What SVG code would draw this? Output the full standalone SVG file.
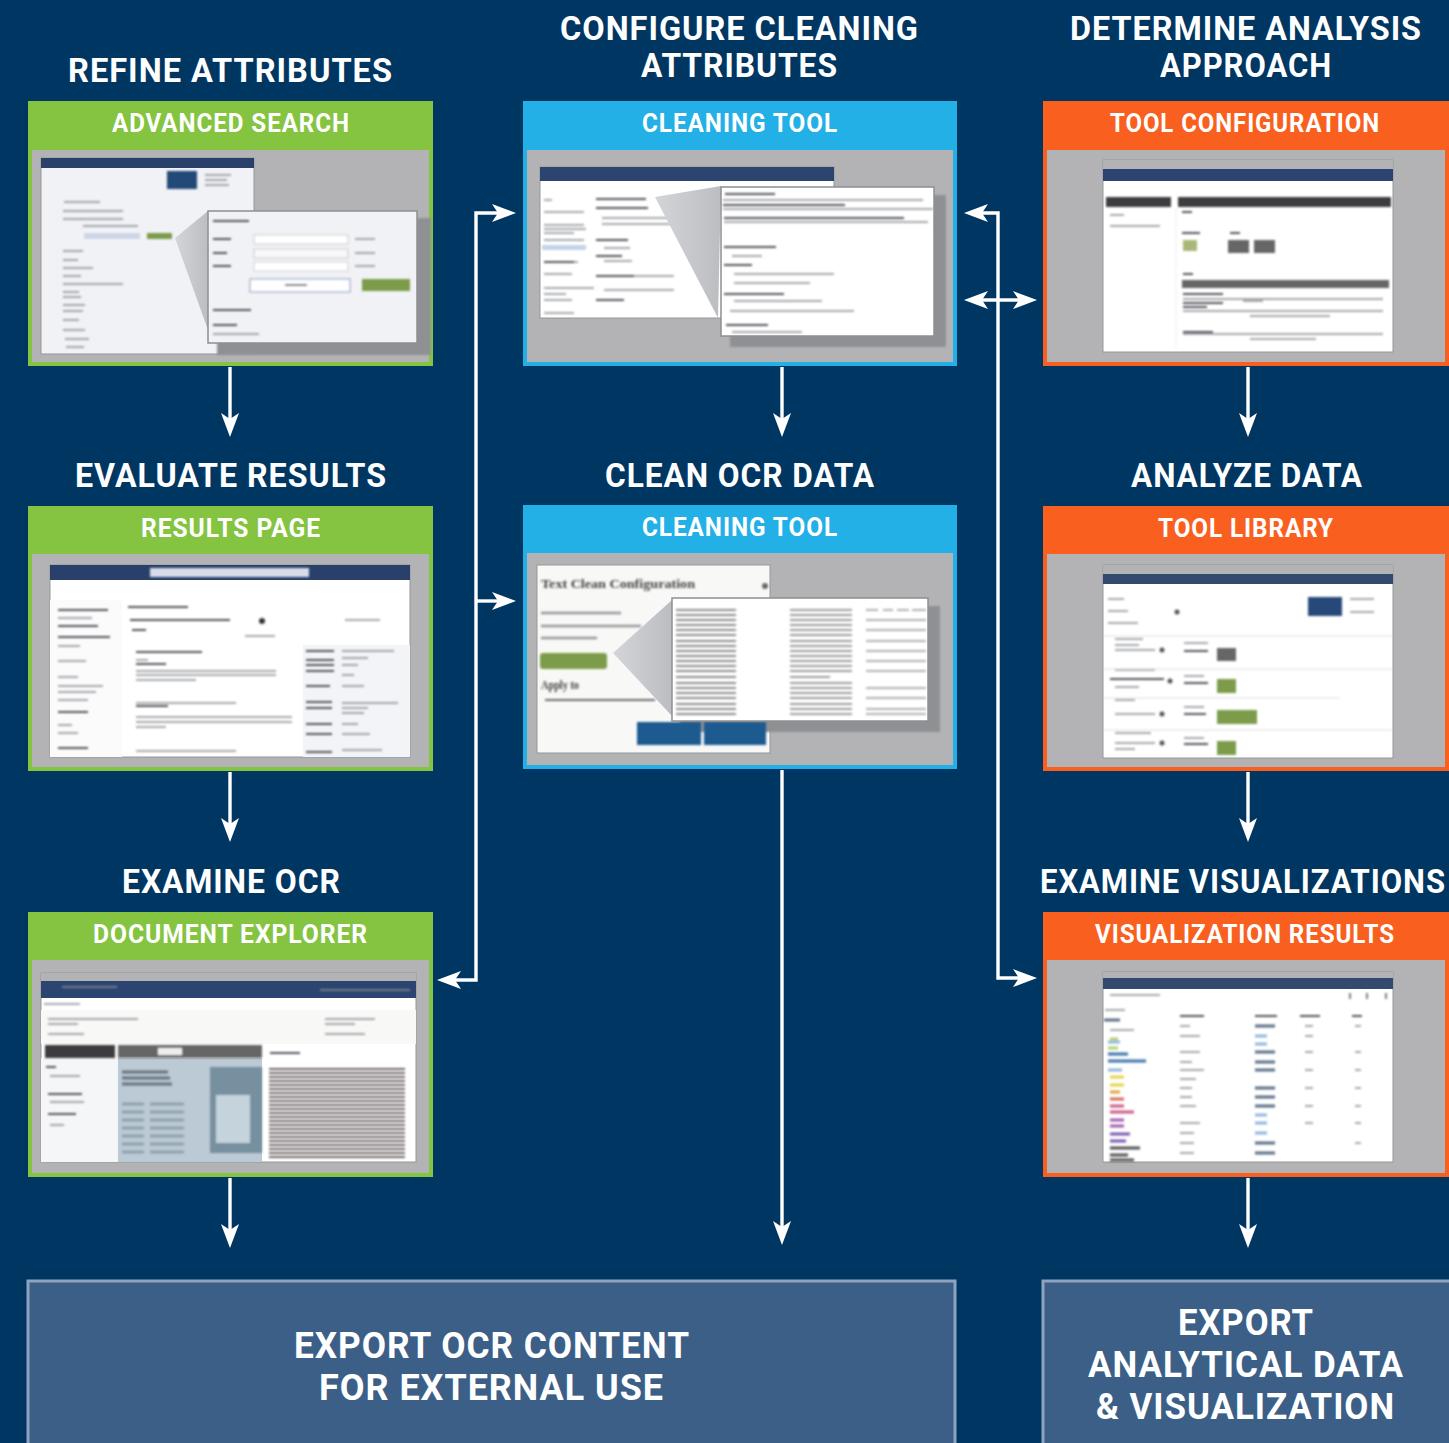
<svg xmlns="http://www.w3.org/2000/svg" width="1449" height="1443" viewBox="0 0 1449 1443">
<style>
text{font-family:"Roboto","Liberation Sans",sans-serif;font-weight:700;fill:#fff;letter-spacing:1px}
.h{font-size:33px}.t{font-size:26px}.e{font-size:37px}
.panel{fill:#b3b3b5}.green{fill:#84c441}.blue{fill:#23b0e6}.orange{fill:#f96020}
.shot{stroke:#96979a;stroke-width:1}.shadow{fill:#8f9094;filter:url(#b)}.pop{stroke:#8d8e91;stroke-width:1.5}
.nav{fill:#2b4570}.dark{fill:#4c4c4e}.l{fill:none;stroke:#8b8d92;stroke-width:1.3}.m{fill:none;stroke:#55575c;stroke-width:1.8}
.wire{fill:none;stroke:#fff;stroke-width:3.4}
.arr{marker-end:url(#a)}.both{marker-start:url(#a);marker-end:url(#a)}
.exp{fill:#3c5f88;stroke:#8ea3bf;stroke-width:3}
.btn{fill:#7b9c4c}.bb{fill:#1f5a90}
.fx{filter:url(#b)}
.dim{font-family:"Liberation Serif",serif;font-weight:700;fill:#444;font-size:13px;letter-spacing:0}
</style>
<defs>
<marker id="a" markerUnits="userSpaceOnUse" markerWidth="24" markerHeight="20" viewBox="0 0 24 20" refX="6" refY="10" orient="auto-start-reverse"><path d="M24 10L0 1L6 10L0 19Z" fill="#fff"/></marker>
<filter id="b" x="-5%" y="-5%" width="110%" height="110%"><feGaussianBlur stdDeviation="1"/></filter>
<linearGradient id="c" x1="0" x2="1" y1="0" y2="0"><stop offset="0" stop-color="#d4d5d8"/><stop offset="1" stop-color="#bcbdc1"/></linearGradient>
</defs>
<rect width="1449" height="1443" fill="#003662"/>

<g id="connectors">
<path class="wire arr" d="M230 367V419"/><path class="wire arr" d="M230 772V824"/><path class="wire arr" d="M230 1178V1230"/>
<path class="wire arr" d="M782 367V419"/><path class="wire arr" d="M782 770V1227"/>
<path class="wire arr" d="M1248 367V419"/><path class="wire arr" d="M1248 772V824"/><path class="wire arr" d="M1248 1178V1230"/>
<path class="wire both" d="M498 213H476V980H455"/><path class="wire arr" d="M476 601H498"/>
<path class="wire both" d="M982 213H998V978H1019"/><path class="wire both" d="M982 300H1019"/>
</g>

<g id="advanced-search">
<text class="h" x="68" y="82" textLength="325" lengthAdjust="spacingAndGlyphs">REFINE ATTRIBUTES</text>
<rect class="green" x="28" y="101" width="405" height="265"/><rect class="panel" x="32" y="150" width="397" height="212"/>
<text class="t" x="112" y="132" textLength="238" lengthAdjust="spacingAndGlyphs">ADVANCED SEARCH</text>
<rect class="shot" x="41" y="158" width="213" height="196" fill="#f1f2f6"/>
<rect class="shadow" x="217" y="218" width="214" height="137"/>
<rect x="41" y="158" width="213" height="10" fill="#28406a"/>
<g class="fx"><rect x="167" y="171" width="30" height="18" fill="#234a78"/>
<path class="l" d="M205 175h26M205 180h22M205 185h24M64 202h36M63 211h60M63 219h60M83 226h55M63 251h20M63 260h15M63 268h30M63 276h18M63 284h60M63 292h16M63 297h18M63 305h22M63 311h20M63 320h16M63 330h22M65 339h24M66 347h18"/>
<rect x="84" y="233" width="56" height="6" fill="#cdd6e6"/><rect x="147" y="233" width="25" height="6" class="btn"/></g>
<path d="M175 238L208 211V330Z" fill="url(#c)"/>
<rect class="pop" x="208" y="211" width="209" height="132" fill="#f1f2f6"/>
<g class="fx"><path class="m" d="M213 221h36M213 239h18M213 253h14M213 266h18M213 310h38M213 325h24"/><path class="l" d="M213 334h46M355 239h20M355 253h20M355 266h20"/>
<rect x="254" y="235" width="94" height="9" fill="#fff" stroke="#c9c9cc"/><rect x="254" y="249" width="94" height="9" fill="#f8f8f8" stroke="#c9c9cc"/><rect x="254" y="262" width="94" height="9" fill="#fff" stroke="#d0d0d2"/>
<rect x="250" y="279" width="100" height="13" fill="#fff" stroke="#7d95c0"/><path class="m" d="M285 285h22"/><rect x="362" y="279" width="48" height="12" class="btn"/></g>
</g>

<g id="results-page">
<text class="h" x="75" y="487" textLength="312" lengthAdjust="spacingAndGlyphs">EVALUATE RESULTS</text>
<rect class="green" x="28" y="506" width="405" height="265"/><rect class="panel" x="32" y="554" width="397" height="213"/>
<text class="t" x="141" y="537" textLength="180" lengthAdjust="spacingAndGlyphs">RESULTS PAGE</text>
<rect class="shot" x="50" y="565" width="360" height="192" fill="#fff"/>
<rect x="50" y="565" width="360" height="15" fill="#28406a"/>
<rect x="303" y="645" width="107" height="112" fill="#f3f4f7"/><rect x="50" y="600" width="72" height="157" fill="#fbfbfc"/>
<g class="fx"><rect x="150" y="568" width="159" height="9" fill="#d8dcea"/>
<path class="m" d="M58 610h50M58 626h40M58 637h52M128 607h60M130 620h100M132 630h14M136 652h66M136 664h30M136 706h32M58 712h30M58 748h30"/><circle cx="262" cy="621" r="3" fill="#333"/>
<path class="l" d="M58 618h34M58 646h22M58 661h28M58 677h20M58 686h45M58 692h38M58 700h30M58 725h14M58 733h20M136 660h12M136 671h140M136 675h140M136 680h60M136 703h100M136 717h156M136 722h156M136 727h30M136 751h100M245 636h30M345 620h35"/>
<path class="m" d="M306 651h28M306 660h28M306 665h28M306 671h28M306 686h24M306 702h26M306 708h26M306 724h26M306 734h26M306 752h26"/><path class="l" d="M342 651h52M342 658h26M342 665h16M342 675h12M342 686h22M342 703h56M342 708h26M342 713h22M342 724h16M342 734h28M342 750h40"/></g>
</g>

<g id="document-explorer">
<text class="h" x="122" y="893" textLength="219" lengthAdjust="spacingAndGlyphs">EXAMINE OCR</text>
<rect class="green" x="28" y="912" width="405" height="265"/><rect class="panel" x="32" y="960" width="397" height="213"/>
<text class="t" x="93" y="943" textLength="275" lengthAdjust="spacingAndGlyphs">DOCUMENT EXPLORER</text>
<rect class="shot" x="41" y="973" width="375" height="189" fill="#fff"/>
<rect x="41" y="973" width="375" height="8" fill="#b3b3b5"/><rect x="41" y="981" width="375" height="17" fill="#2b4570"/>
<rect x="41" y="1010" width="375" height="34" fill="#f8f8f6"/><rect x="41" y="1058" width="77" height="104" fill="#f5f6f8"/>
<rect x="118" y="1058" width="144" height="104" fill="#bccad5"/>
<g class="fx"><rect x="45" y="1045" width="70" height="13" fill="#3d3b3d"/><rect x="118" y="1045" width="144" height="13" fill="#666"/><rect x="158" y="1048" width="24" height="7" fill="#eee"/>
<rect x="210" y="1067" width="52" height="86" fill="#76909f"/><rect x="216" y="1095" width="34" height="48" fill="#c4d3dc"/>
<path d="M122 1072h46M122 1078h48M122 1084h50" fill="none" stroke="#66737c" stroke-width="3"/>
<path d="M122 1104h22M150 1104h34M122 1112h22M150 1112h34M122 1120h22M150 1120h34M122 1128h22M150 1128h34M122 1136h22M150 1136h34M122 1144h22M150 1144h34M122 1152h22M150 1152h34" fill="none" stroke="#8fa1ad" stroke-width="3"/>
<path class="m" d="M270 1053h30M46 1067h10M48 1094h34M48 1114h28"/>
<path class="l" d="M44 1004h36M48 1019h90M48 1024h30M48 1034h36M325 1019h50M325 1024h30M325 1034h40M50 1076h30M50 1102h34M50 1125h14M320 990h90M62 987h55"/>
<path d="M269 1069h136M269 1073h136M269 1077h136M269 1081h136M269 1085h136M269 1089h136M269 1093h136M269 1097h136M269 1101h136M269 1105h136M269 1109h136M269 1113h136M269 1117h136M269 1121h136M269 1125h136M269 1129h136M269 1133h136M269 1137h136M269 1141h136M269 1145h136M269 1149h136M269 1153h136M269 1157h136" fill="none" stroke="#6f6465" stroke-width="1.8"/></g>
</g>

<g id="cleaning-tool-config">
<text class="h" x="560" y="40" textLength="359" lengthAdjust="spacingAndGlyphs">CONFIGURE CLEANING</text>
<text class="h" x="641" y="77" textLength="197" lengthAdjust="spacingAndGlyphs">ATTRIBUTES</text>
<rect class="blue" x="523" y="101" width="434" height="265"/><rect class="panel" x="527" y="150" width="426" height="212"/>
<text class="t" x="642" y="132" textLength="196" lengthAdjust="spacingAndGlyphs">CLEANING TOOL</text>
<rect class="shot" x="540" y="167" width="294" height="151" fill="#fff"/>
<rect class="shadow" x="730" y="195" width="216" height="152"/>
<rect x="540" y="167" width="294" height="14" fill="#2b4570"/>
<g class="fx"><path class="l" d="M544 200h8M544 212h40M544 225h40M544 229h42M544 233h30M544 240h40M544 262h34M544 274h28M544 288h50M544 294h22M544 300h28M544 313h30M602 218h100M602 224h100M604 248h26M604 261h28M604 276h70M604 290h70"/><path class="m" d="M596 199h50M596 208h52M596 240h32M596 256h26M596 276h38M596 300h28M544 262h30"/><rect x="542" y="245" width="44" height="5" fill="#c3d3ea"/></g>
<path d="M655 197L721 186L718 318Z" fill="url(#c)"/>
<rect class="pop" x="721" y="187" width="213" height="149" fill="#fff"/>
<g class="fx"><path class="m" d="M725 194h50M723 205h122M724 218h180M724 247h52M724 265h28M724 294h60M726 325h42"/><path class="l" d="M723 200h200M724 222h204M732 256h30M734 274h100M734 283h76M734 301h88M730 311h124M732 332h70M723 209h210"/></g>
</g>

<g id="cleaning-tool-clean">
<text class="h" x="605" y="487" textLength="270" lengthAdjust="spacingAndGlyphs">CLEAN OCR DATA</text>
<rect class="blue" x="523" y="505" width="434" height="264"/><rect class="panel" x="527" y="553" width="426" height="212"/>
<text class="t" x="642" y="536" textLength="196" lengthAdjust="spacingAndGlyphs">CLEANING TOOL</text>
<rect class="shot" x="537" y="565" width="233" height="188" fill="#f8f8f7"/>
<rect class="shadow" x="680" y="606" width="260" height="126"/>
<g class="fx"><text class="dim" x="541" y="588" textLength="154" lengthAdjust="spacingAndGlyphs">Text Clean Configuration</text>
<circle cx="765" cy="586" r="3" fill="#666"/><path d="M541 613h80M541 626h100M541 638h56" fill="none" stroke="#96979b" stroke-width="2.5"/>
<rect x="540" y="653" width="67" height="16" rx="3" fill="#7b9c4c"/>
<text class="dim" x="541" y="689" textLength="38" lengthAdjust="spacingAndGlyphs">Apply to</text><path d="M545 700h110" fill="none" stroke="#6c6d71" stroke-width="2"/>
<rect x="637" y="722" width="64" height="23" class="bb"/><rect x="704" y="722" width="62" height="23" class="bb"/></g>
<path d="M613 653L672 600V716Z" fill="url(#c)"/>
<rect class="pop" x="672" y="598" width="256" height="123" fill="#fff"/>
<g class="fx"><path d="M676 610h60M676 615h60M676 620h60M676 625h60M676 630h60M676 635h60M676 641h60M676 646h60M676 651h60M676 656h60M676 661h60M676 666h60M676 671h60M676 677h60M676 683h60M676 688h60M676 693h60M676 698h60M676 704h60M676 709h60M676 714h60" fill="none" stroke="#8e8a8c" stroke-width="2"/>
<path d="M790 610h62M790 615h62M790 620h62M790 625h62M790 630h62M790 635h62M790 641h62M790 646h62M790 651h62M790 656h62M790 661h62M790 666h62M790 671h62M790 677h40M790 683h62M790 688h62M790 693h62M790 698h62M790 704h62M790 709h62M790 714h62" fill="none" stroke="#a09b9d" stroke-width="2"/>
<path d="M866 610h12M883 610h10M897 610h12M912 610h14M866 620h60M866 630h60M866 641h60M866 651h60M866 661h60M866 671h60M866 688h60M866 698h60M866 709h60M866 714h60" fill="none" stroke="#b5b1b3" stroke-width="2"/></g>
</g>

<g id="tool-configuration">
<text class="h" x="1070" y="40" textLength="352" lengthAdjust="spacingAndGlyphs">DETERMINE ANALYSIS</text>
<text class="h" x="1160" y="77" textLength="172" lengthAdjust="spacingAndGlyphs">APPROACH</text>
<rect class="orange" x="1043" y="101" width="406" height="265"/><rect class="panel" x="1047" y="150" width="398" height="212"/>
<text class="t" x="1110" y="132" textLength="270" lengthAdjust="spacingAndGlyphs">TOOL CONFIGURATION</text>
<rect class="shot" x="1103" y="160" width="290" height="192" fill="#fff"/>
<rect x="1103" y="160" width="290" height="9" fill="#b3b3b5"/><rect x="1103" y="169" width="290" height="12" fill="#2b4570"/>
<g class="fx"><rect x="1106" y="197" width="65" height="10" fill="#3d3d40"/><rect x="1178" y="197" width="213" height="10" fill="#3d3d40"/>
<rect x="1182" y="280" width="207" height="8" fill="#666"/><rect x="1183" y="240" width="14" height="11" fill="#a8b878"/>
<rect x="1228" y="240" width="21" height="13" fill="#666"/><rect x="1254" y="240" width="21" height="13" fill="#666"/>
<path class="m" d="M1182 212h10M1182 233h18M1230 233h10M1183 274h10M1183 294h40M1183 303h40M1183 307h24M1183 332h30"/><path class="l" d="M1110 215h14M1110 226h50M1183 299h200M1183 311h200M1250 316h80M1183 334h200M1250 339h66M1243 301h20"/><path d="M1176 207V351" stroke="#eee" fill="none"/></g>
</g>

<g id="tool-library">
<text class="h" x="1131" y="487" textLength="232" lengthAdjust="spacingAndGlyphs">ANALYZE DATA</text>
<rect class="orange" x="1043" y="506" width="406" height="265"/><rect class="panel" x="1047" y="554" width="398" height="213"/>
<text class="t" x="1158" y="537" textLength="176" lengthAdjust="spacingAndGlyphs">TOOL LIBRARY</text>
<rect class="shot" x="1103" y="565" width="290" height="193" fill="#fff"/>
<rect x="1103" y="565" width="290" height="9" fill="#b3b3b5"/><rect x="1103" y="574" width="290" height="10" fill="#33496e"/>
<g class="fx"><rect x="1308" y="597" width="34" height="19" fill="#28497a"/>
<rect x="1217" y="648" width="19" height="13" fill="#666"/><rect x="1217" y="679" width="19" height="14" class="btn"/><rect x="1217" y="710" width="40" height="14" class="btn"/><rect x="1217" y="741" width="19" height="14" class="btn"/>
<path class="m" d="M1110 679h54M1184 651h24M1184 683h24M1184 714h22M1184 744h24"/><circle cx="1162" cy="650" r="2.500" fill="#555"/><circle cx="1170" cy="681" r="2.500" fill="#555"/><circle cx="1162" cy="714" r="2.500" fill="#555"/><circle cx="1162" cy="743" r="2.500" fill="#555"/><circle cx="1177" cy="612" r="2.500" fill="#555"/>
<path class="l" d="M1108 599h16M1108 611h20M1108 623h30M1115 639h28M1115 645h24M1115 650h40M1115 670h40M1115 687h24M1115 700h20M1115 714h40M1115 733h36M1115 743h40M1115 749h20M1184 643h24M1184 676h20M1184 707h20M1184 738h20M1350 599h24M1350 612h24"/><path d="M1104 636h288M1104 669h288M1104 698h236M1104 730h288" stroke="#ddd" fill="none"/></g>
</g>

<g id="visualization-results">
<text class="h" x="1040" y="893" textLength="406" lengthAdjust="spacingAndGlyphs">EXAMINE VISUALIZATIONS</text>
<rect class="orange" x="1043" y="912" width="406" height="265"/><rect class="panel" x="1047" y="960" width="398" height="213"/>
<text class="t" x="1095" y="943" textLength="300" lengthAdjust="spacingAndGlyphs">VISUALIZATION RESULTS</text>
<rect class="shot" x="1103" y="972" width="290" height="190" fill="#fff"/>
<rect x="1103" y="972" width="290" height="6" fill="#b3b3b5"/><rect x="1103" y="978" width="290" height="11" fill="#33496e"/>
<g class="fx" fill="none" stroke-width="3">
<path class="l" d="M1110 995h50M1105 1010h20M1110 1030h24M1180 1016h24M1180 1026h10M1180 1036h20M1180 1052h20M1180 1062h12M1180 1070h24M1180 1079h16M1180 1088h12M1180 1097h12M1180 1106h16M1180 1123h20M1180 1133h14M1180 1143h14M1180 1153h14M1305 1026h8M1305 1036h8M1305 1052h8M1305 1070h8M1305 1088h8M1305 1106h8M1305 1123h8M1355 1026h6M1355 1052h6M1355 1070h6M1355 1088h6M1355 1106h6M1355 1123h6M1355 1143h6"/>
<path class="m" d="M1180 1016h24M1255 1016h22M1300 1016h20M1352 1016h10"/>
<path stroke="#5c6f86" d="M1104 1020h16M1255 1026h20M1255 1052h20M1255 1062h20M1255 1070h20M1255 1088h20M1255 1097h20M1255 1106h20M1255 1143h20M1255 1153h20"/>
<path stroke="#8fb7dd" d="M1255 1036h12M1255 1044h12M1255 1115h12M1255 1123h12M1255 1133h12M1108 1042h12M1108 1070h14"/>
<path stroke="#3c74ac" d="M1108 1054h20M1108 1061h38"/>
<path stroke="#b8cf6a" d="M1110 1039h8M1108 1048h10"/>
<path stroke="#e5d44d" d="M1110 1077h14M1110 1085h14"/><path stroke="#e0a33e" d="M1110 1092h10"/><path stroke="#d46c5a" d="M1110 1099h14"/><path stroke="#cc5a88" d="M1110 1106h14M1110 1112h24"/><path stroke="#a45cb0" d="M1110 1120h14M1110 1126h14"/><path stroke="#7b5cb0" d="M1110 1134h20M1110 1141h16"/><path stroke="#555" d="M1110 1148h30M1110 1155h18M1110 1160h24"/>
<path stroke="#555" stroke-width="1.500" d="M1350 993v6M1367 993v6M1386 993v6"/></g>
</g>

<g id="export-ocr">
<rect class="exp" x="28" y="1281" width="927" height="170"/>
<text class="e" x="294" y="1358" textLength="396" lengthAdjust="spacingAndGlyphs">EXPORT OCR CONTENT</text>
<text class="e" x="319" y="1400" textLength="345" lengthAdjust="spacingAndGlyphs">FOR EXTERNAL USE</text>
</g>
<g id="export-analytical">
<rect class="exp" x="1043" y="1281" width="420" height="170"/>
<text class="e" x="1178" y="1335" textLength="136" lengthAdjust="spacingAndGlyphs">EXPORT</text>
<text class="e" x="1088" y="1377" textLength="316" lengthAdjust="spacingAndGlyphs">ANALYTICAL DATA</text>
<text class="e" x="1096" y="1419" textLength="299" lengthAdjust="spacingAndGlyphs">&amp; VISUALIZATION</text>
</g>
</svg>
